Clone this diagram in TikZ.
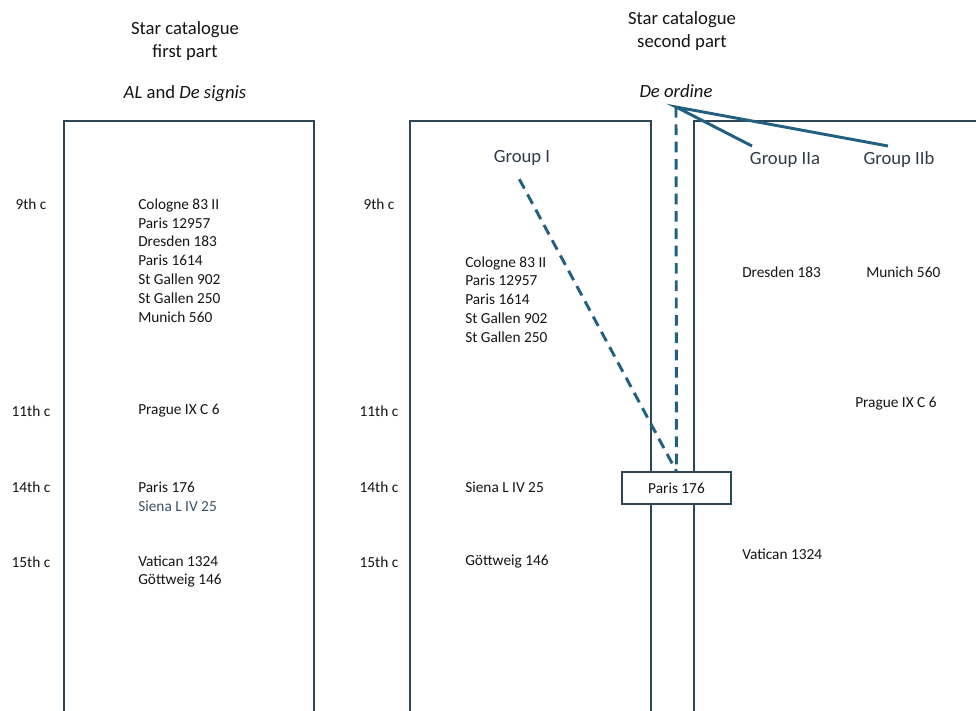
\documentclass[tikz,border=0pt]{standalone}
\usepackage{fontspec}
\setmainfont{Carlito}
\usepackage{xcolor}
\usetikzlibrary{positioning}
\definecolor{framecol}{HTML}{2E4756}
\definecolor{linkcol}{HTML}{21607E}
\definecolor{txtcol}{HTML}{141414}
\definecolor{grpcol}{HTML}{2F3B48}
\definecolor{softcol}{HTML}{3C5064}

\begin{document}
\begin{tikzpicture}[x=0.75pt, y=-0.75pt,
  frame/.style={draw=framecol, line width=0.9pt},
  ms/.style={anchor=west, inner sep=0pt, align=left, text=txtcol, font=\fontsize{11.5}{14.1}\selectfont},
  cent/.style={inner sep=0pt, text=txtcol, font=\fontsize{11.5}{14.1}\selectfont},
  title/.style={inner sep=0pt, align=center, text=txtcol, font=\fontsize{14}{17.3}\selectfont},
  grp/.style={inner sep=0pt, text=grpcol, font=\fontsize{14}{16}\selectfont},
  link/.style={draw=linkcol, line width=2.2pt},
  dlink/.style={link, dash pattern=on 8pt off 5pt}]
  \useasboundingbox (0,0) rectangle (976,711);
  % frames, bottoms run off the page
  \draw[frame] (64,121) rectangle (314,730);
  \draw[frame] (410,121) rectangle (651,730);
  \draw[frame] (694,121) rectangle (1000,730);
  % headings
  \node[title] (head1) at (185,41) {Star catalogue\\first part};
  \node[title] (al) at (185,94) {\textit{AL} and \textit{De signis}};
  \node[title] (head2) at (682,31) {Star catalogue\\second part};
  \node[title] (ordo) at (676,91) {\textit{De ordine}};
  \node[grp] (g1) at (522,158) {Group I};
  \node[grp] (g2a) at (785,160) {Group IIa};
  \node[grp] (g2b) at (899,160) {Group IIb};
  % centuries
  \foreach \c/\y in {9th/204,11th/411,14th/487,15th/562} {
    \node[cent] (l\c) at (31,\y) {\c\ c};
    \node[cent] (m\c) at (379,\y) {\c\ c};
  }
  % first part
  \node[ms] (a9) at (138,260.5) {Cologne 83 II\\Paris 12957\\Dresden 183\\Paris 1614\\St Gallen 902\\St Gallen 250\\Munich 560};
  \node[ms] (a11) at (138,411) {Prague IX C 6};
  \node[ms] (a14) at (138,487) {Paris 176};
  \node[ms, text=softcol] (a14b) at (138,506) {Siena L IV 25};
  \node[ms] (a15) at (138,571.5) {Vatican 1324\\Göttweig 146};
  % second part
  \node[ms] (b9) at (465,299.5) {Cologne 83 II\\Paris 12957\\Paris 1614\\St Gallen 902\\St Gallen 250};
  \node[ms] (b14) at (465,487) {Siena L IV 25};
  \node[ms] (b15) at (465,562) {Göttweig 146};
  \node[ms] (c9a) at (742,272) {Dresden 183};
  \node[ms] (c9b) at (866,272) {Munich 560};
  \node[ms] (c11) at (855,404) {Prague IX C 6};
  \node[ms] (c15) at (742,554) {Vatican 1324};
  \node[draw=framecol, line width=0.8pt, fill=white, minimum width=81.75pt, minimum height=24pt, text=txtcol, font=\fontsize{11.5}{14.1}\selectfont] (p176) at (676.5,488) {Paris 176};
  % links
  \coordinate (fork) at (676,107);
  \coordinate (end2a) at (752,146);
  \coordinate (end2b) at (888,146);
  \draw[link] (end2a) -- (fork) -- (end2b);
  \draw[dlink] (fork) -- (p176.north);
  \draw[dlink] ([xshift=-2pt, yshift=-10pt]g1.south) -- (p176.north);
\end{tikzpicture}
\end{document}
